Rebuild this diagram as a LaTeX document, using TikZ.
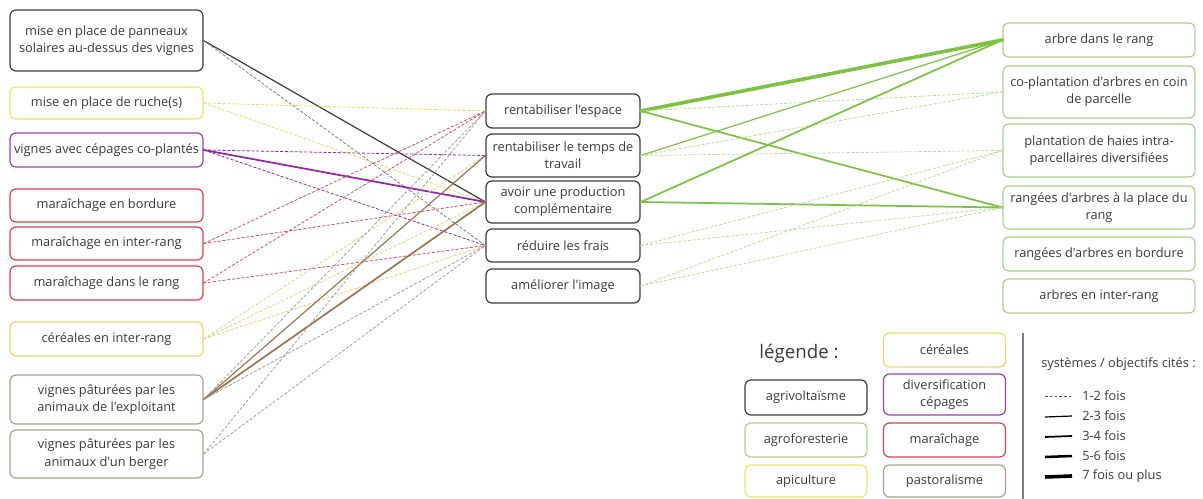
\documentclass[tikz,border=0pt]{standalone}
\usepackage{fontspec}
\setmainfont{Open Sans}[Ligatures=TeXOff]

\definecolor{txtcol}{HTML}{3A3A3A}
\definecolor{pvcol}{HTML}{3C3C3C}
\definecolor{pvdash}{HTML}{7C7C8C}
\definecolor{apicol}{HTML}{ECE46A}
\definecolor{apidash}{HTML}{E9DC5C}
\definecolor{cercol}{HTML}{EFD46A}
\definecolor{cerdash}{HTML}{EBCF78}
\definecolor{cepcol}{HTML}{9E3FB4}
\definecolor{cepline}{HTML}{9326A8}
\definecolor{marcol}{HTML}{D8434A}
\definecolor{mardash}{HTML}{CF4D62}
\definecolor{pascol}{HTML}{B09F88}
\definecolor{pasline}{HTML}{9A7852}
\definecolor{pasdash}{HTML}{A39C94}
\definecolor{afcol}{HTML}{A8D48A}
\definecolor{afline}{HTML}{7CC243}
\definecolor{afdash}{HTML}{BCDD9A}

\tikzset{
  box/.style={draw, rounded corners=4.5pt, line width=0.9pt, fill=white,
    align=center, inner sep=1pt, text=txtcol,
    font=\fontsize{9.6}{13}\selectfont},
  lbox/.style={box, minimum width=144.75pt},
  mbox/.style={box, draw=pvcol, minimum width=115.5pt},
  rbox/.style={box, draw=afcol, minimum width=144pt},
  kbox/.style={box, minimum width=91.5pt},
  fois1/.style={line width=0.6pt, dash pattern=on 2pt off 1.6pt},
  fois2/.style={line width=0.9pt},
  fois3/.style={line width=1.3pt},
  fois5/.style={line width=1.9pt},
  fois7/.style={line width=2.7pt}
}

\begin{document}
\begin{tikzpicture}[x=0.75pt, y=-0.75pt]

        \useasboundingbox (0,0) rectangle (1203,499);

        % systemes
        \node[lbox, draw=pvcol,  minimum height=45.75pt] (l1) at (106.5,40.5)
          {mise en place de panneaux\\solaires au-dessus des vignes};
        \node[lbox, draw=apicol, minimum height=24pt]    (l2) at (106.5,103)
          {mise en place de ruche(s)};
        \node[lbox, draw=cepcol, minimum height=25.5pt]  (l3) at (106.5,150)
          {vignes avec cépages co-plantés};
        \node[lbox, draw=marcol, minimum height=24.75pt] (l4) at (106.5,205.5)
          {maraîchage en bordure};
        \node[lbox, draw=marcol, minimum height=24.75pt] (l5) at (106.5,243.5)
          {maraîchage en inter-rang};
        \node[lbox, draw=marcol, minimum height=25.5pt]  (l6) at (106.5,283)
          {maraîchage dans le rang};
        \node[lbox, draw=cercol, minimum height=25.5pt]  (l7) at (106.5,339)
          {céréales en inter-rang};
        \node[lbox, draw=pascol, minimum height=36.75pt] (l8) at (106.5,399.5)
          {vignes pâturées par les\\animaux de l'exploitant};
        \node[lbox, draw=pascol, minimum height=36pt]    (l9) at (106.5,454)
          {vignes pâturées par les\\animaux d'un berger};

        % objectifs
        \node[mbox, minimum height=25.5pt]  (m1) at (563,111)   {rentabiliser l'espace};
        \node[mbox, minimum height=32.25pt] (m2) at (563,155.5) {rentabiliser le temps de\\travail};
        \node[mbox, minimum height=31.5pt]  (m3) at (563,202)   {avoir une production\\complémentaire};
        \node[mbox, minimum height=24.75pt] (m4) at (563,245.5) {réduire les frais};
        \node[mbox, minimum height=25.5pt]  (m5) at (563,286)   {améliorer l'image};

        % agroforesterie
        \node[rbox, minimum height=25.5pt]  (r1) at (1099,40)    {arbre dans le rang};
        \node[rbox, minimum height=39pt]    (r2) at (1099,92)    {co-plantation d'arbres en coin\\de parcelle};
        \node[rbox, minimum height=39.75pt] (r3) at (1099,150.5) {plantation de haies intra-\\parcellaires diversifiées};
        \node[rbox, minimum height=32.25pt] (r4) at (1099,207.5) {rangées d'arbres à la place du\\rang};
        \node[rbox, minimum height=25.5pt]  (r5) at (1099,254)   {rangées d'arbres en bordure};
        \node[rbox, minimum height=25.5pt]  (r6) at (1099,296)   {arbres en inter-rang};

        \begin{scope}[every edge/.style={draw, line cap=round}]
          \path (l1.east) edge[fois2, draw=pvcol]   (m3.west);
          \path (l1.east) edge[fois1, draw=pvdash]  (m4.west);
          \path (l2.east) edge[fois1, draw=apidash] (m1.west);
          \path (l2.east) edge[fois1, draw=apidash] (m3.west);
          \path (l3.east) edge[fois1, draw=cepline] (m2.west);
          \path (l3.east) edge[fois3, draw=cepline] (m3.west);
          \path (l3.east) edge[fois1, draw=cepline] (m4.west);
          \path (l5.east) edge[fois1, draw=mardash] (m1.west);
          \path (l5.east) edge[fois1, draw=mardash] (m3.west);
          \path (l6.east) edge[fois1, draw=mardash] (m1.west);
          \path (l6.east) edge[fois1, draw=mardash] (m4.west);
          \path (l7.east) edge[fois1, draw=cerdash] (m2.west);
          \path (l7.east) edge[fois1, draw=cerdash] (m3.west);
          \path (l7.east) edge[fois1, draw=cerdash] (m4.west);
          \path (l8.east) edge[fois1, draw=pasdash] (m1.west);
          \path (l8.east) edge[fois2, draw=pasline] (m2.west);
          \path (l8.east) edge[fois3, draw=pasline] (m3.west);
          \path (l8.east) edge[fois1, draw=pasdash] (m4.west);
          \path (l9.east) edge[fois1, draw=pasdash] (m1.west);
          \path (l9.east) edge[fois1, draw=pasdash] (m4.west);

          \path (m1.east) edge[fois7, draw=afline] (r1.west);
          \path (m1.east) edge[fois1, draw=afdash] (r2.west);
          \path (m1.east) edge[fois3, draw=afline] (r4.west);
          \path (m2.east) edge[fois2, draw=afline] (r1.west);
          \path (m2.east) edge[fois1, draw=afdash] (r2.west);
          \path (m2.east) edge[fois1, draw=afdash] (r3.west);
          \path (m3.east) edge[fois3, draw=afline] (r1.west);
          \path (m3.east) edge[fois3, draw=afline] (r4.west);
          \path (m4.east) edge[fois1, draw=afdash] (r3.west);
          \path (m4.east) edge[fois1, draw=afdash] (r4.west);
          \path (m5.east) edge[fois1, draw=afdash] (r3.west);
          \path (m5.east) edge[fois1, draw=afdash] (r4.west);
        \end{scope}

        % legende
        \node[text=txtcol, font=\fontsize{14}{16}\selectfont] (titre) at (799,354) {légende :};
        \node[kbox, draw=pvcol,  minimum height=26.25pt] (k1) at (806,397.5) {agrivoltaïsme};
        \node[kbox, draw=afcol,  minimum height=25.5pt]  (k2) at (806,440)   {agroforesterie};
        \node[kbox, draw=apicol, minimum height=24pt]    (k3) at (806,481)   {apiculture};
        \node[kbox, draw=cercol, minimum height=25.5pt]  (k4) at (944.5,350) {céréales};
        \node[kbox, draw=cepcol, minimum height=30.75pt] (k5) at (944.5,394.5) {diversification\\cépages};
        \node[kbox, draw=marcol, minimum height=25.5pt]  (k6) at (944.5,440)   {maraîchage};
        \node[kbox, draw=pascol, minimum height=24pt]    (k7) at (944.5,481)   {pastoralisme};

        \draw[pasdash!80!black, line width=1.1pt] (1023,333) -- (1023,499);

        \begin{scope}[every node/.style={anchor=west, text=txtcol, inner sep=0pt,
            font=\fontsize{9.6}{12}\selectfont}]
          \node (cites) at (1041,364) {systèmes / objectifs cités :};
          \node (n1) at (1082,396) {1-2 fois};
          \node (n2) at (1082,416) {2-3 fois};
          \node (n3) at (1082,436) {3-4 fois};
          \node (n4) at (1082,456) {5-6 fois};
          \node (n5) at (1082,476) {7 fois ou plus};
        \end{scope}

        \draw[fois1, black!70] (1045,396) -- (1071,396);
        \draw[fois2, black] (1045,417) -- (1072,416);
        \draw[fois3, black] (1045,437) -- (1072,436);
        \draw[fois5, black] (1045,457) -- (1072,456);
        \draw[fois7, black] (1045,477) -- (1072,476);

      \end{tikzpicture}
\end{document}
